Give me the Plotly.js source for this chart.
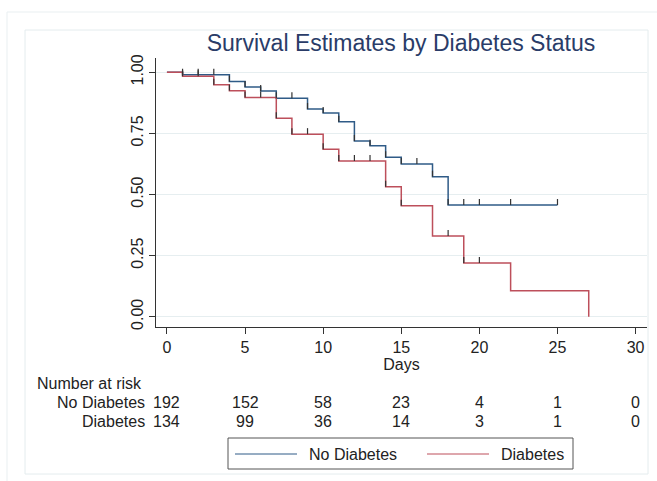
<!DOCTYPE html>
<html>
<head>
<meta charset="utf-8">
<script src="https://cdn.plot.ly/plotly-3.0.1.min.js"></script>
<style>html,body{margin:0;padding:0;background:#fff;}#chart{width:657px;height:481px;}</style>
</head>
<body>
<div id="chart"></div>
<script>
// ---- data ----
const noDiabTimes = [0, 1, 4, 5, 6, 7, 9, 10, 11, 12, 13, 14, 15, 17, 18, 25];
const noDiabSurv  = [1.0, 0.99, 0.962, 0.94, 0.924, 0.894, 0.850, 0.833, 0.798, 0.719, 0.699, 0.652, 0.625, 0.573, 0.457, 0.457];
const diabTimes   = [0, 1, 3, 4, 5, 7, 8, 10, 11, 14, 15, 17, 19, 22, 27];
const diabSurv    = [1.0, 0.984, 0.949, 0.925, 0.897, 0.812, 0.747, 0.685, 0.637, 0.532, 0.454, 0.330, 0.220, 0.106, 0.0];
const noDiabCensor = [1, 2, 3, 4, 5, 6, 7, 8, 9, 10, 11, 12, 13, 14, 15, 16, 17, 18, 19, 20, 22, 25];
const diabCensor   = [1, 2, 3, 4, 5, 6, 7, 8, 9, 10, 11, 12, 13, 14, 15, 18, 19, 20];
const riskDays   = [0, 5, 10, 15, 20, 25, 30];
const riskNoDiab = [192, 152, 58, 23, 4, 1, 0];
const riskDiab   = [134, 99, 36, 14, 3, 1, 0];
const yTicks = [0, 0.25, 0.5, 0.75, 1];
const xTicks = [0, 5, 10, 15, 20, 25, 30];
const groupNames = ['No Diabetes', 'Diabetes'];

// ---- style ----
const BLUE = '#2f5b87', RED = '#bd4f5b', INK = '#222222';
const FONT = 'Liberation Sans, Arial, Helvetica, sans-serif';
const M = {l: 156, r: 10, t: 58, b: 154};
const PW = 657 - M.l - M.r, PH = 481 - M.t - M.b;
const px = X => (X - M.l) / PW;
const py = Y => (M.t + PH - Y) / PH;
const AXY = M.t + PH; // pixel y of x axis

function stepValue(times, surv, t) {
  let v = surv[0];
  for (let i = 0; i < times.length; i++) if (times[i] <= t) v = surv[i];
  return v;
}

const traces = [
  {x: noDiabTimes, y: noDiabSurv, type: 'scatter', mode: 'lines', line: {shape: 'hv', color: BLUE, width: 1.5}, name: groupNames[0], showlegend: false, hoverinfo: 'skip'},
  {x: diabTimes, y: diabSurv, type: 'scatter', mode: 'lines', line: {shape: 'hv', color: RED, width: 1.5}, name: groupNames[1], showlegend: false, hoverinfo: 'skip'}
];

const shapes = [];
// outer frames
shapes.push({type: 'rect', xref: 'paper', yref: 'paper', x0: px(7), x1: px(700), y0: py(12), y1: py(520), line: {color: '#e9eff1', width: 1}, layer: 'below'});
shapes.push({type: 'rect', xref: 'paper', yref: 'paper', x0: px(25), x1: px(648), y0: py(30), y1: py(474), line: {color: '#e4ecee', width: 1}, layer: 'below'});
// censoring ticks
function addTicks(cens, times, surv) {
  cens.forEach(t => {
    shapes.push({type: 'line', xref: 'x', yref: 'y', x0: t, x1: t, ysizemode: 'pixel', yanchor: stepValue(times, surv, t), y0: 0, y1: 6, line: {color: '#333333', width: 1.2}});
  });
}
addTicks(noDiabCensor, noDiabTimes, noDiabSurv);
addTicks(diabCensor, diabTimes, diabSurv);
// legend box & samples
shapes.push({type: 'rect', xref: 'paper', yref: 'paper', x0: px(228), x1: px(573), y0: py(438), y1: py(469), line: {color: '#555555', width: 1}});
shapes.push({type: 'line', xref: 'paper', yref: 'paper', x0: px(235), x1: px(297), y0: py(454), y1: py(454), line: {color: BLUE, width: 1}});
shapes.push({type: 'line', xref: 'paper', yref: 'paper', x0: px(427), x1: px(489), y0: py(454), y1: py(454), line: {color: RED, width: 1}});

const ann = [];
const tf = {family: FONT, size: 16, color: INK};
ann.push({text: 'Number at risk', xref: 'paper', yref: 'paper', x: px(35), y: 0, yshift: -(383 - AXY), xanchor: 'left', yanchor: 'middle', showarrow: false, font: tf});
ann.push({text: groupNames[0], xref: 'paper', yref: 'paper', x: px(147), y: 0, yshift: -(402 - AXY), xanchor: 'right', yanchor: 'middle', showarrow: false, font: tf});
ann.push({text: groupNames[1], xref: 'paper', yref: 'paper', x: px(147), y: 0, yshift: -(421 - AXY), xanchor: 'right', yanchor: 'middle', showarrow: false, font: tf});
riskDays.forEach((d, i) => {
  ann.push({text: String(riskNoDiab[i]), xref: 'x', yref: 'paper', x: d, y: 0, yshift: -(402 - AXY), xanchor: 'center', yanchor: 'middle', showarrow: false, font: tf});
  ann.push({text: String(riskDiab[i]), xref: 'x', yref: 'paper', x: d, y: 0, yshift: -(421 - AXY), xanchor: 'center', yanchor: 'middle', showarrow: false, font: tf});
});
ann.push({text: groupNames[0], xref: 'paper', yref: 'paper', x: px(307), y: 0, yshift: -(454 - AXY), xanchor: 'left', yanchor: 'middle', showarrow: false, font: tf});
ann.push({text: groupNames[1], xref: 'paper', yref: 'paper', x: px(499), y: 0, yshift: -(454 - AXY), xanchor: 'left', yanchor: 'middle', showarrow: false, font: tf});

const layout = {
  width: 657, height: 481,
  margin: M,
  paper_bgcolor: '#ffffff', plot_bgcolor: '#ffffff',
  font: {family: FONT, size: 16, color: INK},
  showlegend: false,
  title: {text: 'Survival Estimates by Diabetes Status', font: {family: FONT, size: 23, color: '#2a3c68'}, x: 401 / 657, xanchor: 'center', xref: 'container', y: 1 - 43 / 481, yanchor: 'middle', yref: 'container'},
  xaxis: {
    range: [-0.70, 30.73], tickvals: xTicks, ticks: 'outside', ticklen: 6, tickcolor: '#333', tickwidth: 1,
    showline: true, linecolor: '#333', linewidth: 1, showgrid: false, zeroline: false,
    tickfont: {family: FONT, size: 16, color: INK},
    title: {text: 'Days', font: {family: FONT, size: 16, color: INK}, standoff: 2}
  },
  yaxis: {
    range: [-0.042, 1.0585], tickvals: yTicks, tickformat: '.2f', tickangle: -90, ticks: 'outside', ticklen: 6, tickcolor: '#333', tickwidth: 1,
    showline: true, linecolor: '#333', linewidth: 1, showgrid: true, gridcolor: '#e6eef0', gridwidth: 1, zeroline: false,
    tickfont: {family: FONT, size: 16, color: INK}
  },
  shapes: shapes,
  annotations: ann
};

Plotly.newPlot('chart', traces, layout, {displayModeBar: false, staticPlot: true});
</script>
</body>
</html>
